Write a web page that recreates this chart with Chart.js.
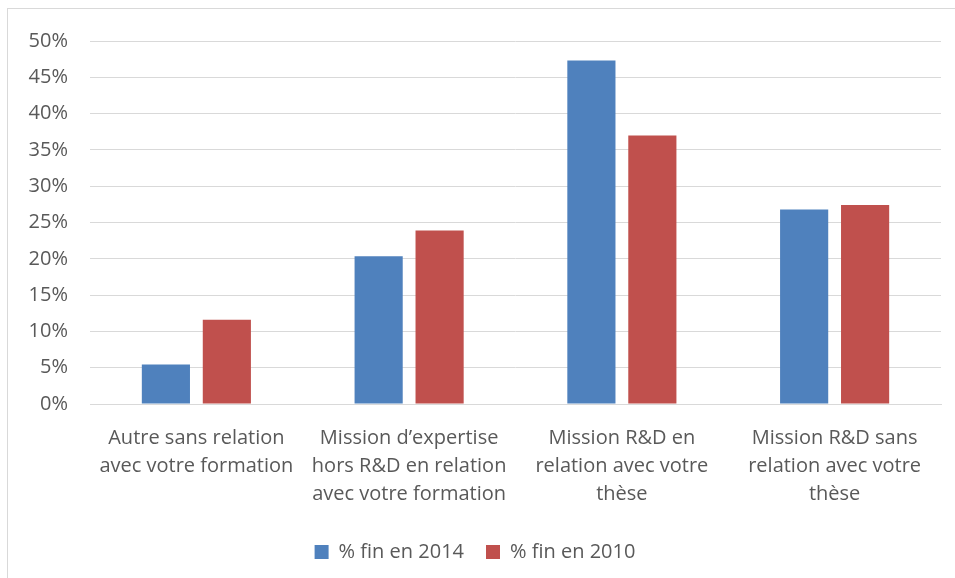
<!DOCTYPE html>
<html>
<head>
<meta charset="utf-8">
<script src="https://cdn.jsdelivr.net/npm/chart.js@4"></script>
<style>
  html, body { margin: 0; padding: 0; background: #fff; overflow: hidden; }
  #wrap { position: absolute; left: 7px; top: 8px; width: 960px; height: 580px;
          border: 1px solid #d9d9d9; box-sizing: border-box; }
  #box { position: absolute; left: 1px; top: 1px; width: 947px; height: 569px; }
</style>
</head>
<body>
<div id="wrap"><div id="box"><canvas id="myChart"></canvas></div></div>
<script>
const categories = [
    ["Autre sans relation", "avec votre formation"],
    ["Mission d\u2019expertise", "hors R&D en relation", "avec votre formation"],
    ["Mission R&D en", "relation avec votre", "thèse"],
    ["Mission R&D sans", "relation avec votre", "thèse"]
];
const serie2014 = [5.45, 20.35, 47.3, 26.8];
const serie2010 = [11.6, 23.9, 37.0, 27.4];
const seriesLabels = ['% fin en 2014', '% fin en 2010'];
const yTicks = [0, 5, 10, 15, 20, 25, 30, 35, 40, 45, 50];

const police = "'Open Sans', 'DejaVu Sans', sans-serif";
const gris = '#595959';

const ctx = document.getElementById('myChart').getContext('2d');
new Chart(ctx, {
    type: 'bar',
    data: {
        labels: categories,
        datasets: [{
            label: seriesLabels[0],
            data: serie2014,
            backgroundColor: '#4f81bd',
            categoryPercentage: 0.573,
            barPercentage: 0.79
        }, {
            label: seriesLabels[1],
            data: serie2010,
            backgroundColor: '#c0504d',
            categoryPercentage: 0.573,
            barPercentage: 0.79
        }]
    },
    options: {
        responsive: true,
        maintainAspectRatio: false,
        animation: false,
        layout: { padding: { left: 0, right: 15, top: 31, bottom: 7 } },
        plugins: {
            tooltip: { enabled: false },
            legend: {
                position: 'bottom',
                labels: {
                    color: gris,
                    font: { family: police, size: 20 },
                    boxWidth: 14,
                    boxHeight: 14,
                    padding: 22
                }
            }
        },
        scales: {
            x: {
                grid: { display: false },
                border: { color: '#d9d9d9' },
                ticks: {
                    color: gris,
                    font: { family: police, size: 20, lineHeight: 1.4 },
                    maxRotation: 0,
                    padding: 12
                }
            },
            y: {
                min: 0,
                max: 50,
                afterBuildTicks: function (axis) {
                    axis.ticks = yTicks.map(v => ({ value: v }));
                },
                afterFit: function (axis) {
                    axis.width = 81;
                    axis.paddingTop = 0;
                    axis.paddingBottom = 0;
                },
                grid: { color: '#d9d9d9', drawTicks: false },
                border: { display: false },
                ticks: {
                    color: gris,
                    font: { family: police, size: 20 },
                    padding: 22,
                    callback: v => v + '%'
                }
            }
        }
    }
});
</script>
</body>
</html>
